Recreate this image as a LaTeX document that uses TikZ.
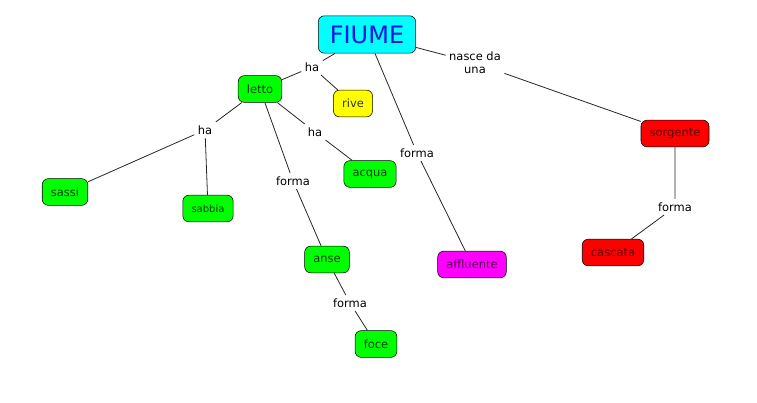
\documentclass[tikz,border=0pt]{standalone}
\usepackage{fontspec}
\setmainfont{DejaVu Sans}
\usetikzlibrary{positioning}
\definecolor{fiumecyan}{RGB}{0,255,255}
\definecolor{fiumeblue}{RGB}{20,20,230}
\definecolor{boxgreen}{RGB}{0,255,0}
\definecolor{boxyellow}{RGB}{255,255,0}
\definecolor{boxmagenta}{RGB}{255,0,255}
\definecolor{boxred}{RGB}{255,0,0}
\tikzset{
    concept/.style={draw, rounded corners=4.5pt, minimum height=20pt, inner xsep=6.5pt,
        font=\fontsize{8.6}{10}\selectfont},
    greenbox/.style={concept, fill=boxgreen, text={rgb,255:red,0;green,60;blue,0}},
    redbox/.style={concept, fill=boxred, text={rgb,255:red,90;green,0;blue,0}},
    linkword/.style={inner sep=2.5pt, align=center, font=\fontsize{8.6}{10}\selectfont},
    link/.style={draw, line width=0.6pt, black!85},
}

\begin{document}
\begin{tikzpicture}[x=0.75pt, y=-0.75pt]
    \useasboundingbox (0,0) rectangle (757,403);
    % concepts
    \node [concept, fill=fiumecyan, text=fiumeblue, minimum height=28pt, minimum width=73pt,
        font=\fontsize{18}{20}\selectfont] (fiume) at (367,34.5) {FIUME};
    \node [greenbox] (letto) at (260,89) {letto};
    \node [concept, fill=boxyellow, text=black!80] (rive) at (353,103.5) {rive};
    \node [greenbox] (sassi) at (65,192) {sassi};
    \node [greenbox, font=\fontsize{7.5}{9}\selectfont] (sabbia) at (208,208.5) {sabbia};
    \node [greenbox] (acqua) at (370,174) {acqua};
    \node [greenbox] (anse) at (327,259.5) {anse};
    \node [greenbox] (foce) at (376,344) {foce};
    \node [concept, fill=boxmagenta, text={rgb,255:red,80;green,0;blue,80}] (affluente) at (472,264.5) {affluente};
    \node [redbox] (sorgente) at (675,133.5) {sorgente};
    \node [redbox] (cascata) at (613,252.5) {cascata};
    % linking words
    \node [linkword] (ha1) at (312,67) {ha};
    \node [linkword] (nasce) at (475,63) {nasce da\\una};
    \node [linkword] (forma1) at (417,153) {forma};
    \node [linkword] (ha2) at (205,130) {ha};
    \node [linkword] (ha3) at (315,132) {ha};
    \node [linkword] (forma2) at (293,181) {forma};
    \node [linkword] (forma3) at (350,303) {forma};
    \node [linkword] (forma4) at (675,207) {forma};
    % links
    \path [link] (fiume) -- (ha1) (ha1) -- (letto) (ha1) -- (rive);
    \path [link] (fiume) -- (forma1) (forma1) -- (affluente);
    \path [link] (fiume) -- (nasce) (nasce) -- (sorgente);
    \path [link] (letto) -- (ha2) (ha2) -- (sassi) (ha2) -- (sabbia);
    \path [link] (letto) -- (ha3) (ha3) -- (acqua);
    \path [link] (letto) -- (forma2) (forma2) -- (anse);
    \path [link] (anse) -- (forma3) (forma3) -- (foce);
    \path [link] (sorgente) -- (forma4) (forma4) -- (cascata);
\end{tikzpicture}
\end{document}
